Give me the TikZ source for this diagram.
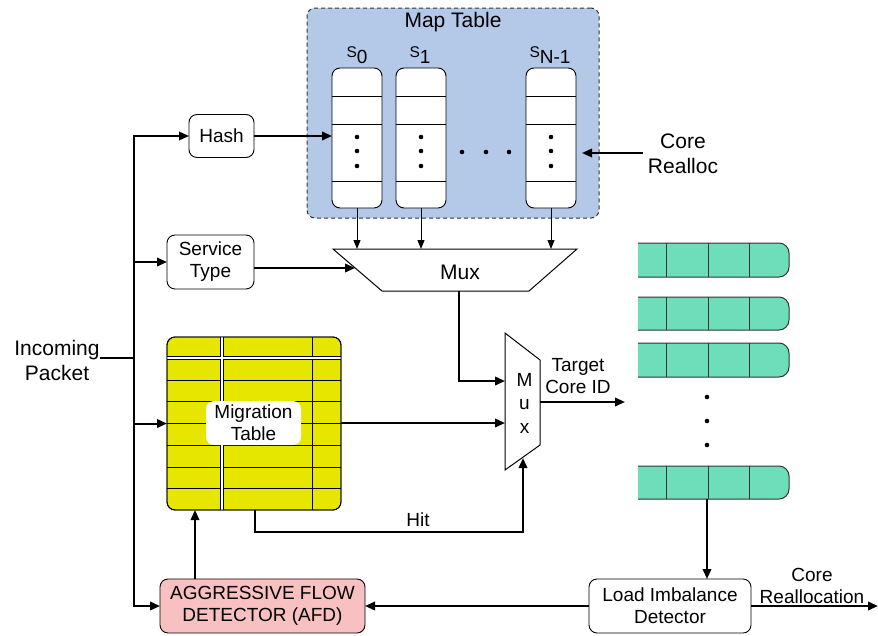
\documentclass[tikz,border=0pt]{standalone}
\usepackage{fontspec}
\setmainfont{Liberation Sans}
\usetikzlibrary{arrows.meta,calc}
\definecolor{mapblue}{HTML}{B4C8E8}
\definecolor{migyellow}{HTML}{E6E600}
\definecolor{afdpink}{HTML}{F8C0C0}
\definecolor{qgreen}{HTML}{6EDDB9}
\newcommand{\fsmid}{\fontsize{19}{22}\selectfont}
\newcommand{\fsbig}{\fontsize{21}{25}\selectfont}
\newcommand{\fssmall}{\fontsize{15.5}{16}\selectfont}
\begin{document}
\begin{tikzpicture}[x=1pt,y=-1pt,
  every node/.style={inner sep=0pt, outer sep=0pt},
  ln/.style={line width=2pt},
  tn/.style={line width=1pt},
  arr/.style={ln, -{Triangle[length=10pt,width=8.5pt]}},
  tarr/.style={tn, -{Triangle[length=9pt,width=7pt]}},
  rbox/.style={draw, line width=0.9pt, rounded corners=8pt, fill=white, align=center, font=\fsmid},
  col/.style={draw, line width=0.9pt, rounded corners=8pt, fill=white, minimum width=50pt, minimum height=140pt},
  dotm/.style={circle, fill=black, minimum size=4.6pt},
  queue/.style={draw=black!80, line width=1pt, fill=qgreen, rounded corners=10pt},
  lbl/.style={font=\fsmid, align=center},
  lbll/.style={font=\fsbig, align=center}]
\useasboundingbox (0,0) rectangle (878,635);

% Map table
\node[draw=black!80, dash pattern=on 4pt off 3pt, line width=1pt, fill=mapblue, rounded corners=8pt, minimum width=292pt, minimum height=210pt] (map) at (453,113) {};
\node[lbll] (maptitle) at (453,22) {Map Table};
\foreach \n/\x in {c0/357, c1/421, cn/551}{
  \node[col] (\n) at (\x,138) {};
  \foreach \d in {28,56,113}
    \draw[line width=0.9pt] ($(\n.north west)+(0,\d)$) -- ($(\n.north east)+(0,\d)$);
  \foreach \d in {69,83,98}
    \node[dotm] at ($(\n.north)+(0,\d)$) {};
}
\node (s0) at (357,55) {\fssmall S\raisebox{-6pt}{\fsmid 0}};
\node (s1) at (420,55) {\fssmall S\raisebox{-6pt}{\fsmid 1}};
\node (sn) at (550,55) {\fssmall S\raisebox{-6pt}{\fsmid N-1}};
\foreach \x in {462,486,509} \node[dotm] at (\x,152) {};

% boxes
\node[rbox, minimum width=65pt, minimum height=43pt] (hash) at (221.5,136) {Hash};
\node[rbox, minimum width=87pt, minimum height=54pt] (stype) at (210.5,262) {Service\\Type};
\node[rbox, fill=afdpink, minimum width=205pt, minimum height=54pt] (afd) at (262.5,606) {AGGRESSIVE FLOW\\DETECTOR (AFD)};
\node[rbox, minimum width=162pt, minimum height=54pt] (lid) at (670,606) {Load Imbalance\\Detector};

% migration table
\node[draw, line width=0.9pt, fill=migyellow, rounded corners=8pt, minimum width=174pt, minimum height=173pt] (mig) at (254,423.5) {};
\begin{scope}
  \clip[rounded corners=8pt] (mig.north west) rectangle (mig.south east);
  \foreach \yy in {380,401,423,445,467,488} \draw[line width=0.9pt] (167,\yy) -- (341,\yy);
  \draw[line width=0.9pt] (312,337) -- (312,510);
  \draw[line width=4.2pt] (167,358) -- (341,358);
  \draw[line width=4.2pt] (222,337) -- (222,510);
  \draw[white, line width=2pt] (167,358) -- (341,358);
  \draw[white, line width=2pt] (222,337) -- (222,510);
\end{scope}
\draw[line width=0.9pt, rounded corners=8pt] (mig.north west) rectangle (mig.south east);
\node[fill=white, rounded corners=8pt, minimum width=95pt, minimum height=44pt, font=\fsmid, align=center] (miglbl) at (253.5,423) {Migration\\Table};

% muxes
\draw[tn, fill=white] (333,249) coordinate (m1tl) -- (577,249) coordinate (m1tr) -- (529,291) coordinate (m1br) -- (382,291) coordinate (m1bl) -- cycle;
\node[lbll] (mux1) at (460,272) {Mux};
\draw[tn, fill=white] (505,333) coordinate (m2tl) -- (540,360) coordinate (m2tr) -- (540,445) coordinate (m2br) -- (505,470) coordinate (m2bl) -- cycle;
\node[font=\fontsize{19}{23.5}\selectfont, align=center] (mux2) at (524.5,403) {M\\u\\x};
\coordinate (m1in) at (355,268);
\coordinate (m1out) at (459,291);
\coordinate (m2in1) at (505,381);
\coordinate (m2in2) at (505,423);
\coordinate (m2out) at (540,402);
\coordinate (m2hit) at (523,458);
\coordinate (tgt) at (625,402);

% queues
\foreach \t/\b in {243/277, 297/330, 343/377, 466/499}{
  \draw[queue] (638,\t) -- (789,\t) -- (789,\b) -- (638,\b);
  \foreach \x in {666,708,749} \draw[line width=1pt, black!80] (\x,\t) -- (\x,\b);
}
\foreach \y in {397,421,445} \node[dotm] at (707,\y) {};
\coordinate (q4) at (707,499);

% labels
\node[lbll] (crl) at (683,154) {Core\\Realloc};
\coordinate (corein) at (643,153);
\node[lbl] (tcid) at (578,376) {Target\\Core ID};
\node[lbl] (hit) at (418,520) {Hit};
\node[lbll] (inc) at (57,360) {Incoming\\Packet};
\coordinate (bus) at (134,358);
\node[lbl] (crlab) at (812,586) {Core\\Reallocation};
\coordinate (crout) at (878,606);

% connectors
\draw[arr] (hash.east) -- (hash.east -| c0.west);
\draw[arr, shorten >=6pt] (corein) -- (corein -| cn.east);
\foreach \n in {c0,c1,cn} \draw[tarr] (\n.south) -- (\n.south |- m1tl);
\draw[arr] ($(stype.east)+(0,6)$) -- (m1in);
\draw[arr] (m1out) |- (m2in1);
\draw[arr] (mig.east |- m2in2) -- (m2in2);
\draw[arr] (m2out) -- (tgt);
\draw[arr] ($(mig.south)+(1,0)$) -- ++(0,22) -| (m2hit);
\draw[ln] (inc.east |- bus) -- (bus);
\draw[arr] (bus) |- (hash.west);
\draw[arr] (bus) |- (afd.west);
\draw[arr] (stype.west -| bus) -- (stype.west);
\draw[arr] (mig.west -| bus) -- (mig.west);
\draw[arr] ($(afd.north west)+(35,0)$) -- ($(mig.south west)+(28,0)$);
\draw[arr] (lid.west) -- (afd.east);
\draw[arr] (lid.east) -- (crout);
\draw[arr] (q4) -- (q4 |- lid.north);
\end{tikzpicture}
\end{document}
